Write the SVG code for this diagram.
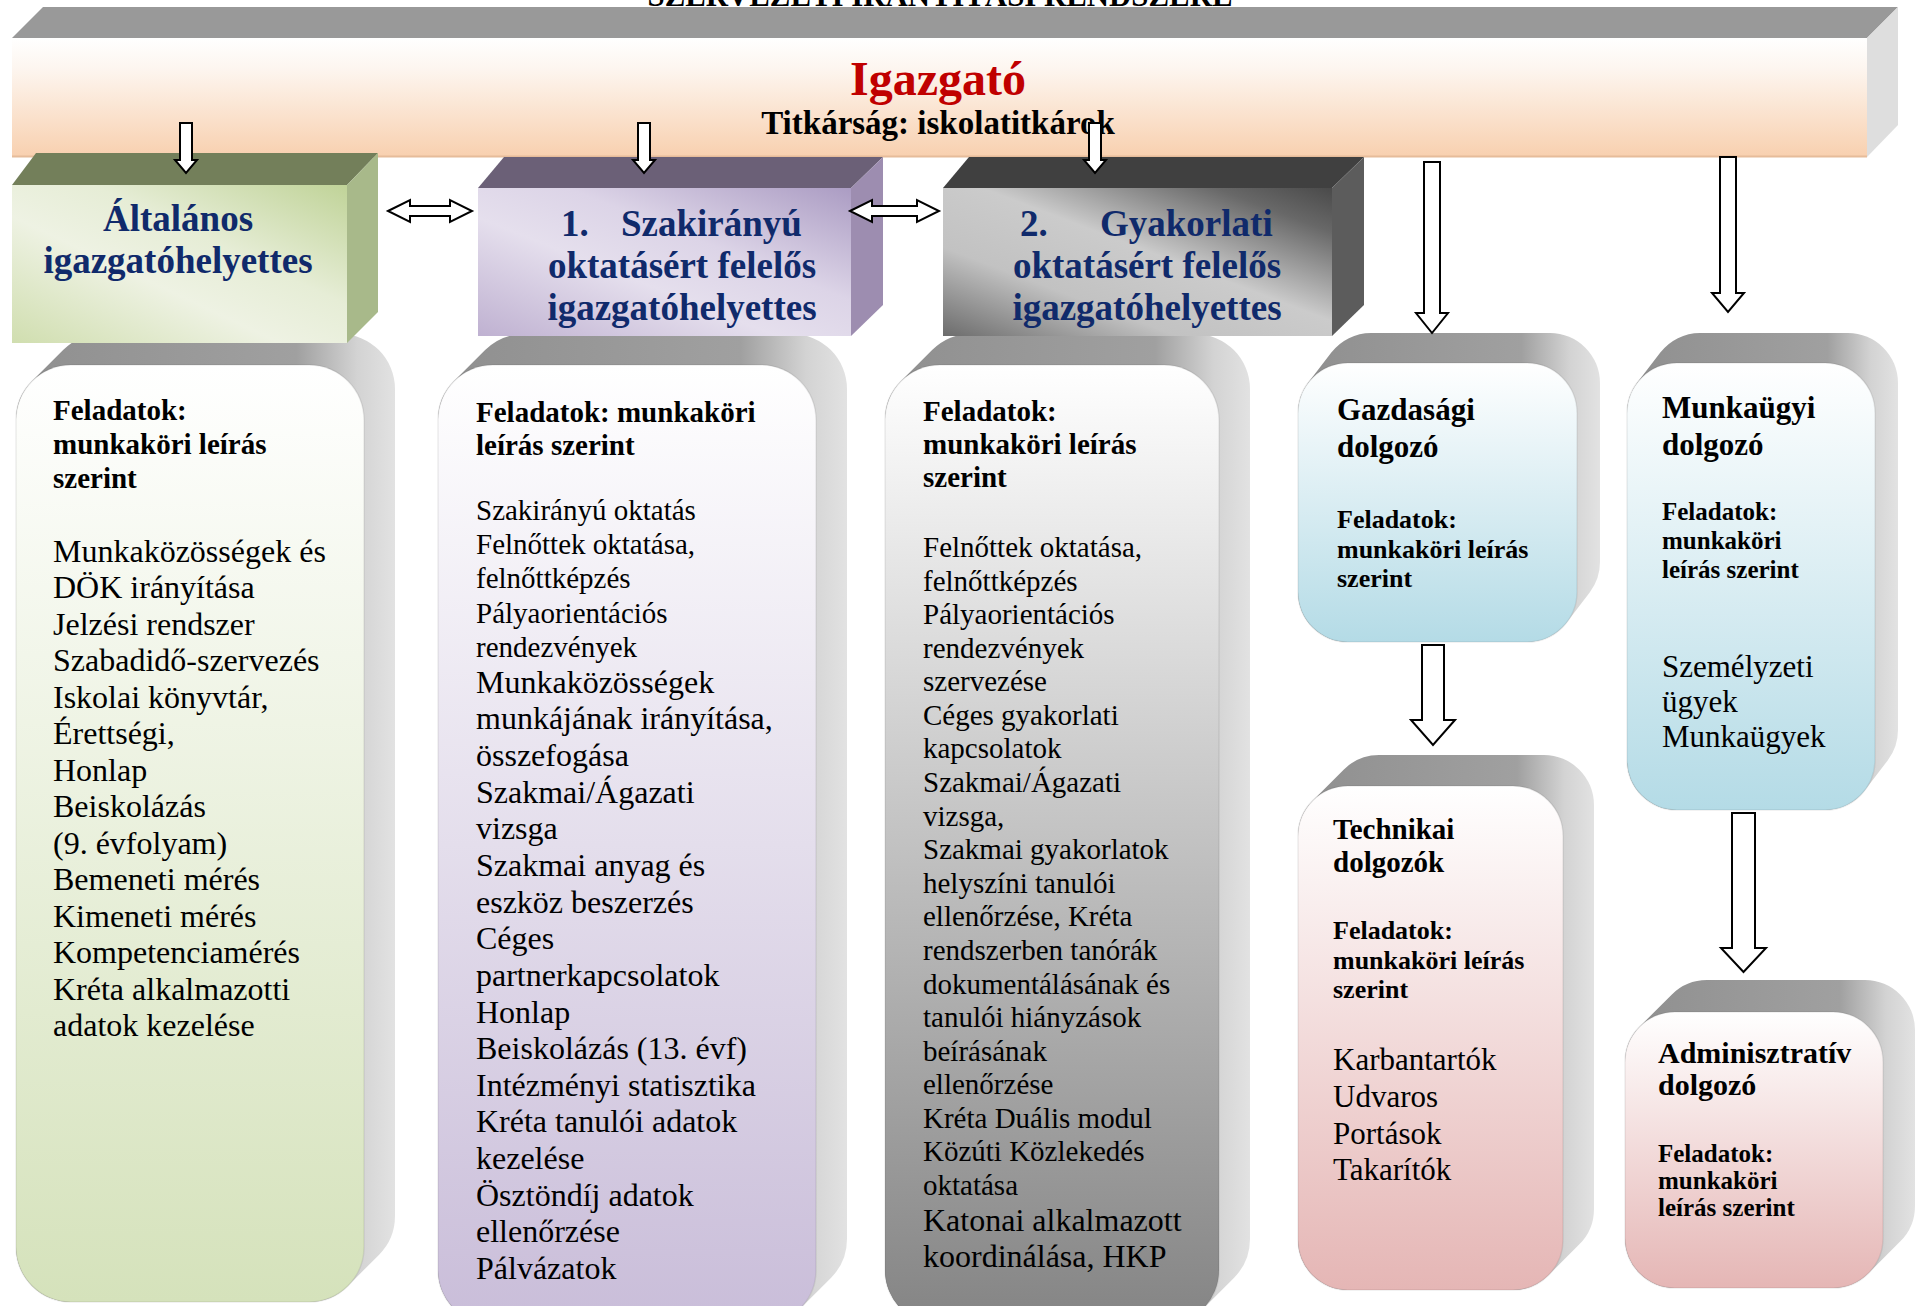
<svg xmlns="http://www.w3.org/2000/svg" width="1923" height="1306" viewBox="0 0 1923 1306">
<defs>
<style>
.hd{font-family:"Liberation Serif",serif;font-weight:bold;fill:#102a6b;font-size:37px}
.bd{font-family:"Liberation Serif",serif;font-weight:bold;fill:#000}
.rg{font-family:"Liberation Serif",serif;fill:#000}
.ext{fill:url(#ext)}
.front{stroke:#000;stroke-opacity:.07;stroke-width:1.5}
.arr{fill:#fff;stroke:#000;stroke-width:2;stroke-linejoin:miter}
</style>
<linearGradient id="barFront" x1="0" y1="0" x2="0" y2="1">
<stop offset="0" stop-color="#ffffff"/><stop offset="0.25" stop-color="#fdf6f0"/><stop offset="1" stop-color="#f8d0af"/>
</linearGradient>
<linearGradient id="ext" x1="0" y1="0" x2="1" y2="0">
<stop offset="0" stop-color="#8f8f8f"/><stop offset="0.74" stop-color="#a0a0a0"/><stop offset="0.9" stop-color="#d3d3d3"/><stop offset="1" stop-color="#e2e2e2"/>
</linearGradient>
<linearGradient id="gCard" x1="0" y1="0" x2="0" y2="1"><stop offset="0" stop-color="#ffffff"/><stop offset="1" stop-color="#d5e2bb"/></linearGradient>
<linearGradient id="pCard" x1="0" y1="0" x2="0" y2="1"><stop offset="0" stop-color="#ffffff"/><stop offset="1" stop-color="#c9bdd9"/></linearGradient>
<linearGradient id="kCard" x1="0" y1="0" x2="0" y2="1"><stop offset="0" stop-color="#ffffff"/><stop offset="1" stop-color="#848484"/></linearGradient>
<linearGradient id="bCard" x1="0" y1="0" x2="0" y2="1"><stop offset="0" stop-color="#ffffff"/><stop offset="1" stop-color="#b4dbe6"/></linearGradient>
<linearGradient id="rCard" x1="0" y1="0" x2="0" y2="1"><stop offset="0" stop-color="#ffffff"/><stop offset="1" stop-color="#e5b6b5"/></linearGradient>
<linearGradient id="gBox" x1="0" y1="1" x2="1" y2="0">
<stop offset="0" stop-color="#d0deaf"/><stop offset="0.4" stop-color="#eef2e3"/><stop offset="0.62" stop-color="#e6edd6"/><stop offset="1" stop-color="#c0d398"/>
</linearGradient>
<linearGradient id="pBox" x1="0" y1="1" x2="1" y2="0">
<stop offset="0" stop-color="#bfb1d1"/><stop offset="0.4" stop-color="#e5dfed"/><stop offset="0.62" stop-color="#dcd4e7"/><stop offset="1" stop-color="#ab9cc3"/>
</linearGradient>
<linearGradient id="kBox" x1="0" y1="1" x2="1" y2="0">
<stop offset="0" stop-color="#6c6c6c"/><stop offset="0.3" stop-color="#c2c2c2"/><stop offset="0.55" stop-color="#cbcbcb"/><stop offset="0.85" stop-color="#686868"/><stop offset="1" stop-color="#4a4a4a"/>
</linearGradient>
</defs>

<rect width="1923" height="1306" fill="#ffffff"/>

<text class="bd" x="940" y="6" font-size="31" text-anchor="middle" textLength="585" lengthAdjust="spacingAndGlyphs">SZERVEZETI IRÁNYÍTÁSI RENDSZERE</text>

<g id="igazgato">
<polygon points="12,38 43,7 1898,7 1867,38" fill="#999999"/>
<polygon points="1867,38 1898,7 1898,125 1867,157" fill="#dedede"/>
<rect x="12" y="38" width="1855" height="119" fill="url(#barFront)"/>
<line x1="12" y1="156.5" x2="1867" y2="156.5" stroke="#e6bc9a" stroke-width="2"/>
<text class="bd" x="938" y="95" font-size="48" text-anchor="middle" style="fill:#c00000">Igazgató</text>
<text class="bd" x="938" y="134" font-size="33" text-anchor="middle">Titkárság: iskolatitkárok</text>
</g>

<g id="card-altalanos">
<path class="ext" d="M32.1,381.1 L63.1,350.1 A55,55 0 0 1 102,334 L340,334 A55,55 0 0 1 395,389 L395,1216 A55,55 0 0 1 378.9,1254.9 L347.9,1285.9 A55,55 0 0 1 309,1302 L71,1302 A55,55 0 0 1 16,1247 L16,420 A55,55 0 0 1 32.1,381.1 Z"/>
<rect class="front" x="16" y="365" width="348" height="937" rx="55" fill="url(#gCard)"/>
<text class="bd" font-size="29"><tspan x="53" y="420">Feladatok:</tspan><tspan x="53" y="454">munkaköri leírás</tspan><tspan x="53" y="488">szerint</tspan></text>
<text class="rg" font-size="32">
<tspan x="53" y="561.5">Munkaközösségek és</tspan>
<tspan x="53" dy="36.5">DÖK irányítása</tspan>
<tspan x="53" dy="36.5">Jelzési rendszer</tspan>
<tspan x="53" dy="36.5">Szabadidő-szervezés</tspan>
<tspan x="53" dy="36.5">Iskolai könyvtár,</tspan>
<tspan x="53" dy="36.5">Érettségi,</tspan>
<tspan x="53" dy="36.5">Honlap</tspan>
<tspan x="53" dy="36.5">Beiskolázás</tspan>
<tspan x="53" dy="36.5">(9. évfolyam)</tspan>
<tspan x="53" dy="36.5">Bemeneti mérés</tspan>
<tspan x="53" dy="36.5">Kimeneti mérés</tspan>
<tspan x="53" dy="36.5">Kompetenciamérés</tspan>
<tspan x="53" dy="36.5">Kréta alkalmazotti</tspan>
<tspan x="53" dy="36.5">adatok kezelése</tspan>
</text>
</g>

<g id="card-szakiranyu">
<path class="ext" d="M454.1,381.1 L485.1,350.1 A55,55 0 0 1 524,334 L792,334 A55,55 0 0 1 847,389 L847,1239 A55,55 0 0 1 830.9,1277.9 L799.9,1308.9 A55,55 0 0 1 761,1325 L493,1325 A55,55 0 0 1 438,1270 L438,420 A55,55 0 0 1 454.1,381.1 Z"/>
<rect class="front" x="438" y="365" width="378" height="960" rx="55" fill="url(#pCard)"/>
<text class="bd" font-size="29"><tspan x="476" y="422">Feladatok: munkaköri</tspan><tspan x="476" y="455">leírás szerint</tspan></text>
<text class="rg" font-size="29">
<tspan x="476" y="520">Szakirányú oktatás</tspan>
<tspan x="476" dy="34.2">Felnőttek oktatása,</tspan>
<tspan x="476" dy="34.2">felnőttképzés</tspan>
<tspan x="476" dy="34.2">Pályaorientációs</tspan>
<tspan x="476" dy="34.2">rendezvények</tspan>
</text>
<text class="rg" font-size="32">
<tspan x="476" y="692.8">Munkaközösségek</tspan>
<tspan x="476" dy="36.64">munkájának irányítása,</tspan>
<tspan x="476" dy="36.64">összefogása</tspan>
<tspan x="476" dy="36.64">Szakmai/Ágazati</tspan>
<tspan x="476" dy="36.64">vizsga</tspan>
<tspan x="476" dy="36.64">Szakmai anyag és</tspan>
<tspan x="476" dy="36.64">eszköz beszerzés</tspan>
<tspan x="476" dy="36.64">Céges</tspan>
<tspan x="476" dy="36.64">partnerkapcsolatok</tspan>
<tspan x="476" dy="36.64">Honlap</tspan>
<tspan x="476" dy="36.64">Beiskolázás (13. évf)</tspan>
<tspan x="476" dy="36.64">Intézményi statisztika</tspan>
<tspan x="476" dy="36.64">Kréta tanulói adatok</tspan>
<tspan x="476" dy="36.64">kezelése</tspan>
<tspan x="476" dy="36.64">Ösztöndíj adatok</tspan>
<tspan x="476" dy="36.64">ellenőrzése</tspan>
<tspan x="476" dy="36.64">Pálvázatok</tspan>
</text>
</g>

<g id="card-gyakorlati">
<path class="ext" d="M901.1,381.1 L932.1,350.1 A55,55 0 0 1 971,334 L1195,334 A55,55 0 0 1 1250,389 L1250,1239 A55,55 0 0 1 1233.9,1277.9 L1202.9,1308.9 A55,55 0 0 1 1164,1325 L940,1325 A55,55 0 0 1 885,1270 L885,420 A55,55 0 0 1 901.1,381.1 Z"/>
<rect class="front" x="885" y="365" width="334" height="960" rx="55" fill="url(#kCard)"/>
<text class="bd" font-size="29"><tspan x="923" y="421">Feladatok:</tspan><tspan x="923" y="454">munkaköri leírás</tspan><tspan x="923" y="487">szerint</tspan></text>
<text class="rg" font-size="29">
<tspan x="923" y="557">Felnőttek oktatása,</tspan>
<tspan x="923" dy="33.58">felnőttképzés</tspan>
<tspan x="923" dy="33.58">Pályaorientációs</tspan>
<tspan x="923" dy="33.58">rendezvények</tspan>
<tspan x="923" dy="33.58">szervezése</tspan>
<tspan x="923" dy="33.58">Céges gyakorlati</tspan>
<tspan x="923" dy="33.58">kapcsolatok</tspan>
<tspan x="923" dy="33.58">Szakmai/Ágazati</tspan>
<tspan x="923" dy="33.58">vizsga,</tspan>
<tspan x="923" dy="33.58">Szakmai gyakorlatok</tspan>
<tspan x="923" dy="33.58">helyszíni tanulói</tspan>
<tspan x="923" dy="33.58">ellenőrzése, Kréta</tspan>
<tspan x="923" dy="33.58">rendszerben tanórák</tspan>
<tspan x="923" dy="33.58">dokumentálásának és</tspan>
<tspan x="923" dy="33.58">tanulói hiányzások</tspan>
<tspan x="923" dy="33.58">beírásának</tspan>
<tspan x="923" dy="33.58">ellenőrzése</tspan>
<tspan x="923" dy="33.58">Kréta Duális modul</tspan>
<tspan x="923" dy="33.58">Közúti Közlekedés</tspan>
<tspan x="923" dy="33.58">oktatása</tspan>
</text>
<text class="rg" font-size="32"><tspan x="923" y="1231">Katonai alkalmazott</tspan><tspan x="923" y="1266.5">koordinálása, HKP</tspan></text>
</g>

<g id="card-gazdasagi">
<path class="ext" d="M1308.31,382.57 L1331.31,352.57 A50,50 0 0 1 1371,333 L1550,333 A50,50 0 0 1 1600,383 L1600,562 A50,50 0 0 1 1589.69,592.43 L1566.69,622.43 A50,50 0 0 1 1527,642 L1348,642 A50,50 0 0 1 1298,592 L1298,413 A50,50 0 0 1 1308.31,382.57 Z"/>
<rect class="front" x="1298" y="363" width="279" height="279" rx="50" fill="url(#bCard)"/>
<text class="bd" font-size="31"><tspan x="1337" y="420">Gazdasági</tspan><tspan x="1337" y="457">dolgozó</tspan></text>
<text class="bd" font-size="26"><tspan x="1337" y="528">Feladatok:</tspan><tspan x="1337" y="558">munkaköri leírás</tspan><tspan x="1337" y="587">szerint</tspan></text>
</g>

<g id="card-munkaugyi">
<path class="ext" d="M1637.31,382.57 L1660.31,352.57 A50,50 0 0 1 1700,333 L1848,333 A50,50 0 0 1 1898,383 L1898,730 A50,50 0 0 1 1887.69,760.43 L1864.69,790.43 A50,50 0 0 1 1825,810 L1677,810 A50,50 0 0 1 1627,760 L1627,413 A50,50 0 0 1 1637.31,382.57 Z"/>
<rect class="front" x="1627" y="363" width="248" height="447" rx="50" fill="url(#bCard)"/>
<text class="bd" font-size="31"><tspan x="1662" y="418">Munkaügyi</tspan><tspan x="1662" y="455">dolgozó</tspan></text>
<text class="bd" font-size="25"><tspan x="1662" y="520">Feladatok:</tspan><tspan x="1662" y="549">munkaköri</tspan><tspan x="1662" y="578">leírás szerint</tspan></text>
<text class="rg" font-size="31"><tspan x="1662" y="677">Személyzeti</tspan><tspan x="1662" y="712">ügyek</tspan><tspan x="1662" y="747">Munkaügyek</tspan></text>
</g>

<g id="card-technikai">
<path class="ext" d="M1312.64,800.64 L1343.64,769.64 A50,50 0 0 1 1379,755 L1544,755 A50,50 0 0 1 1594,805 L1594,1209 A50,50 0 0 1 1579.36,1244.36 L1548.36,1275.36 A50,50 0 0 1 1513,1290 L1348,1290 A50,50 0 0 1 1298,1240 L1298,836 A50,50 0 0 1 1312.64,800.64 Z"/>
<rect class="front" x="1298" y="786" width="265" height="504" rx="50" fill="url(#rCard)"/>
<text class="bd" font-size="29"><tspan x="1333" y="839">Technikai</tspan><tspan x="1333" y="872">dolgozók</tspan></text>
<text class="bd" font-size="26"><tspan x="1333" y="939">Feladatok:</tspan><tspan x="1333" y="969">munkaköri leírás</tspan><tspan x="1333" y="998">szerint</tspan></text>
<text class="rg" font-size="31"><tspan x="1333" y="1070">Karbantartók</tspan><tspan x="1333" y="1107">Udvaros</tspan><tspan x="1333" y="1144">Portások</tspan><tspan x="1333" y="1180">Takarítók</tspan></text>
</g>

<g id="card-adminisztrativ">
<path class="ext" d="M1639.64,1026.64 L1671.64,994.64 A50,50 0 0 1 1707,980 L1865,980 A50,50 0 0 1 1915,1030 L1915,1206 A50,50 0 0 1 1900.36,1241.36 L1868.36,1273.36 A50,50 0 0 1 1833,1288 L1675,1288 A50,50 0 0 1 1625,1238 L1625,1062 A50,50 0 0 1 1639.64,1026.64 Z"/>
<rect class="front" x="1625" y="1012" width="258" height="276" rx="50" fill="url(#rCard)"/>
<text class="bd" font-size="30"><tspan x="1658" y="1063">Adminisztratív</tspan><tspan x="1658" y="1095">dolgozó</tspan></text>
<text class="bd" font-size="25"><tspan x="1658" y="1162">Feladatok:</tspan><tspan x="1658" y="1189">munkaköri</tspan><tspan x="1658" y="1216">leírás szerint</tspan></text>
</g>

<g id="box-altalanos">
<polygon points="12,185 36,153 378,153 347,185" fill="#737f5a"/>
<polygon points="347,185 378,153 378,312 347,343" fill="#a8b98a"/>
<rect x="12" y="185" width="335" height="158" fill="url(#gBox)"/>
<text class="hd" text-anchor="middle"><tspan x="178" y="231">Általános</tspan><tspan x="178" y="273">igazgatóhelyettes</tspan></text>
</g>

<g id="box-szakiranyu">
<polygon points="478,188 504,157 883,157 851,188" fill="#6b6077"/>
<polygon points="851,188 883,157 883,305 851,336" fill="#9d8db0"/>
<rect x="478" y="188" width="373" height="148" fill="url(#pBox)"/>
<text class="hd"><tspan x="561" y="236">1. </tspan><tspan x="621" y="236">Szakirányú</tspan></text>
<text class="hd" text-anchor="middle"><tspan x="682" y="278">oktatásért felelős</tspan><tspan x="682" y="320">igazgatóhelyettes</tspan></text>
</g>

<g id="box-gyakorlati">
<polygon points="943,188 969,157 1364,157 1332,188" fill="#404040"/>
<polygon points="1332,188 1364,157 1364,305 1332,336" fill="#5c5c5c"/>
<rect x="943" y="188" width="389" height="148" fill="url(#kBox)"/>
<text class="hd"><tspan x="1020" y="236">2. </tspan><tspan x="1100" y="236">Gyakorlati</tspan></text>
<text class="hd" text-anchor="middle"><tspan x="1147" y="278">oktatásért felelős</tspan><tspan x="1147" y="320">igazgatóhelyettes</tspan></text>
</g>

<g id="connectors">
<polygon class="arr" points="180,123 192,123 192,160 197,160 186,173 175,160 180,160"/>
<polygon class="arr" points="638,123 650,123 650,160 655,160 644,173 633,160 638,160"/>
<polygon class="arr" points="1089,123 1101,123 1101,160 1106,160 1095,173 1084,160 1089,160"/>
<polygon class="arr" points="1424,162 1440,162 1440,313 1448,313 1432,333 1416,313 1424,313"/>
<polygon class="arr" points="1720,157 1736,157 1736,293 1744,293 1728,312 1712,293 1720,293"/>
<polygon class="arr" points="1422,645 1444,645 1444,720 1455,720 1433,745 1411,720 1422,720"/>
<polygon class="arr" points="1732,813 1755,813 1755,948 1766,948 1743.5,972 1721,948 1732,948"/>
<polygon class="arr" points="388,211 410,200 410,206 450,206 450,200 472,211 450,222 450,216 410,216 410,222"/>
<polygon class="arr" points="850,211 872,200 872,206 917,206 917,200 939,211 917,222 917,216 872,216 872,222"/>
</g>
</svg>
